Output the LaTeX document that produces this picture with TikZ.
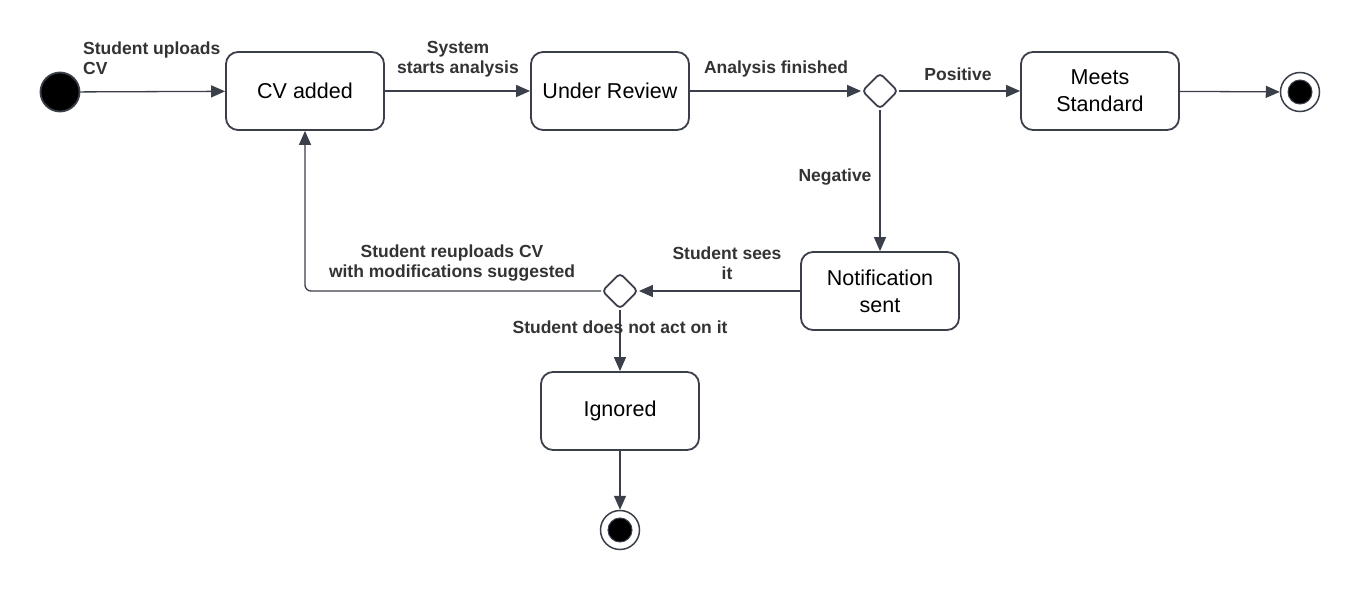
\documentclass[tikz,border=0pt]{standalone}
\usepackage{fontspec}
\setmainfont{Liberation Sans}
\newfontfamily\lblfont{Liberation Sans}
\usetikzlibrary{arrows.meta,shapes.geometric}
\definecolor{lc}{HTML}{3B3F4A}
\definecolor{tc}{HTML}{333333}
\tikzset{
  statebox/.style={draw=lc, line width=1.8pt, rounded corners=12pt, minimum width=158pt, minimum height=78pt, align=center, font=\fontsize{21.5}{27}\selectfont, text=black, inner sep=0pt},
  choice/.style={draw=lc, line width=1.8pt, diamond, minimum width=36pt, minimum height=36pt, inner sep=0pt, rounded corners=4pt, fill=white},
  initst/.style={circle, draw=lc, line width=1.8pt, fill=black, minimum size=39pt, inner sep=0pt},
  finalst/.style={circle, draw=lc, line width=1.5pt, fill=white, minimum size=39pt, inner sep=0pt,
     path picture={\fill[black, draw=lc, line width=1pt] (path picture bounding box.center) circle (12pt);}},
  conn/.style={draw=lc, line width=1.3pt, -{Triangle[length=14pt, width=12pt]}},
  lbl/.style={font=\lblfont\bfseries\fontsize{17.5}{20.5}\selectfont, text=tc, align=center, inner sep=0pt}
}
\begin{document}
\begin{tikzpicture}[x=1pt, y=-1pt]
\useasboundingbox[fill=white] (0,0) rectangle (1360,591);
\node[initst] (start) at (60,92) {};
\node[statebox] (cv) at (305,91) {CV added};
\node[statebox] (rev) at (610,91) {Under Review};
\node[choice] (d1) at (880,91) {};
\node[statebox] (meets) at (1100,91) {Meets\\Standard};
\node[finalst] (end1) at (1300,92) {};
\node[statebox] (notif) at (880,291) {Notification\\sent};
\node[choice] (d2) at (620,291) {};
\node[statebox] (ign) at (620,411) {Ignored};
\node[finalst] (end2) at (620,530) {};

\draw[conn] (start) -- (cv);
\draw[conn] (cv) -- (rev);
\draw[conn] (rev) -- (d1);
\draw[conn] (d1) -- (meets);
\draw[conn] (meets) -- (end1);
\draw[conn] (d1) -- (notif);
\draw[conn] (notif) -- (d2);
\draw[conn, rounded corners=6pt] (d2.west) -| (cv.south);
\draw[conn] (d2) -- (ign);
\draw[conn] (ign) -- (end2);

\node[lbl, align=left, anchor=west] (l1) at (83,58) {Student uploads\\CV};
\node[lbl] (l2) at (458,59) {System\\starts analysis};
\node[lbl] (l3) at (776,69) {Analysis finished};
\node[lbl] (l4) at (958,74) {Positive};
\node[lbl] (l5) at (835,177) {Negative};
\node[lbl] (l6) at (727,263) {Student sees\\it};
\node[lbl] (l7) at (452,263) {Student reuploads CV\\with modifications suggested};
\node[lbl] (l8) at (620,327) {Student does not act on it};
\end{tikzpicture}
\end{document}
